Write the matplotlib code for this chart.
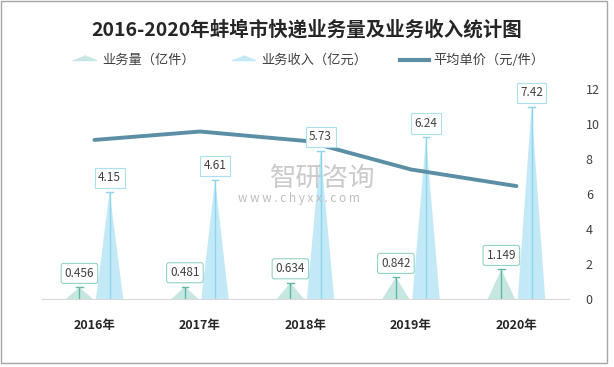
import matplotlib
matplotlib.use("Agg")
import matplotlib.pyplot as plt
from matplotlib.lines import Line2D
from matplotlib.patches import Rectangle
import numpy as np

plt.rcParams['font.family'] = ['Noto Sans CJK SC', 'DejaVu Sans']
plt.rcParams['axes.unicode_minus'] = False

# 数据
years = ['2016年', '2017年', '2018年', '2019年', '2020年']
volume = [0.456, 0.481, 0.634, 0.842, 1.149]      # 业务量（亿件）
income = [4.15, 4.61, 5.73, 6.24, 7.42]           # 业务收入（亿元）
price = [9.10, 9.58, 9.04, 7.41, 6.46]            # 平均单价（元/件）

c_vol = '#C6E7E1'
c_vol_line = '#5DB6A6'
c_vol_box = '#93D3C6'
c_inc = '#C3E9F7'
c_inc_line = '#8CD5EC'
c_inc_box = '#A9E0F2'
c_price = '#5A8FA6'

fig = plt.figure(figsize=(6.14, 3.67), dpi=100)
ax = fig.add_axes([0.068, 0.185, 0.859, 0.572])
ax2 = ax.twinx()

x = np.arange(len(years))
off = 0.143
hw = 0.13

for i in range(len(years)):
    xv = x[i] - off
    ax.fill([xv - hw, xv + hw, xv], [0, 0, volume[i]], color=c_vol, lw=0, zorder=2)
    ax.vlines(xv, 0, volume[i], color=c_vol_line, lw=1, zorder=3)
    ax.plot([xv - 0.03, xv + 0.03], [volume[i]] * 2, color=c_vol_line, lw=1, zorder=3)
    xi = x[i] + off
    ax.fill([xi - hw, xi + hw, xi], [0, 0, income[i]], color=c_inc, lw=0, zorder=2)
    ax.vlines(xi, 0, income[i], color=c_inc_line, lw=1, zorder=3)
    ax.plot([xi - 0.03, xi + 0.03], [income[i]] * 2, color=c_inc_line, lw=1, zorder=3)

ax.set_xlim(-0.5, 4.5)
ax.set_ylim(0, 8.1)
ax.set_yticks([])
for s in ['top', 'left', 'right']:
    ax.spines[s].set_visible(False)
ax.spines['bottom'].set_color('#D9D9D9')
ax.set_xticks(x)
ax.set_xticklabels(years, fontsize=9, fontweight='bold', color='#262626')
ax.tick_params(axis='x', length=0, pad=14)

ax2.plot(x, price, color=c_price, lw=2.8, solid_capstyle='round', zorder=4)
ax2.set_ylim(0, 12)
ax2.set_yticks(range(0, 13, 2))
ax2.tick_params(axis='y', length=0, labelsize=9, labelcolor='#404040', pad=12)
for s in ['top', 'left', 'right', 'bottom']:
    ax2.spines[s].set_visible(False)

for i in range(len(years)):
    ax2.annotate(f'{volume[i]:.3f}', xy=(x[i] - off, volume[i]), xycoords=ax.transData,
                 xytext=(0, 10), textcoords='offset points', ha='center', va='center',
                 fontsize=8.5, color='#404040', zorder=6,
                 bbox=dict(boxstyle='round,pad=0.3,rounding_size=0.2', fc='white', ec=c_vol_box, lw=0.8))
    ax2.annotate(f'{income[i]:.2f}', xy=(x[i] + off, income[i]), xycoords=ax.transData,
                 xytext=(0, 10), textcoords='offset points', ha='center', va='center',
                 fontsize=8.5, color='#404040', zorder=6,
                 bbox=dict(boxstyle='square,pad=0.3', fc='white', ec=c_inc_box, lw=0.8))

# 水印
fig.text(0.44, 0.515, '智研咨询', fontsize=19, color='#BDBDBD', alpha=0.8, ha='left', va='center')
fig.text(0.387, 0.46, 'w w w . c h y x x . c o m', fontsize=8.5, color='#BDBDBD', ha='left', va='center')
fig.text(0.395, 0.515, '', fontsize=1)

fig.suptitle('2016-2020年蚌埠市快递业务量及业务收入统计图', y=0.945, fontsize=14,
             fontweight='bold', color='#262626')

handles = [
    Line2D([], [], ls='none', marker=[(-2, 0), (2, 0), (0, 0.8)], markersize=17, color=c_vol),
    Line2D([], [], ls='none', marker=[(-2, 0), (2, 0), (0, 0.8)], markersize=17, color=c_inc),
    Line2D([], [], color=c_price, lw=3),
]
fig.legend(handles, ['业务量（亿件）', '业务收入（亿元）', '平均单价（元/件）'],
           loc='center', bbox_to_anchor=(0.5, 0.835), ncol=3, frameon=False,
           fontsize=9.5, handlelength=2.2, handletextpad=0.3, columnspacing=2.5,
           labelcolor='#404040')

fig.patches.append(Rectangle((0.002, 0.012), 0.986, 0.985, transform=fig.transFigure,
                             fill=False, ec='#A6A6A6', lw=1))

fig.savefig('out.png', dpi=100)
